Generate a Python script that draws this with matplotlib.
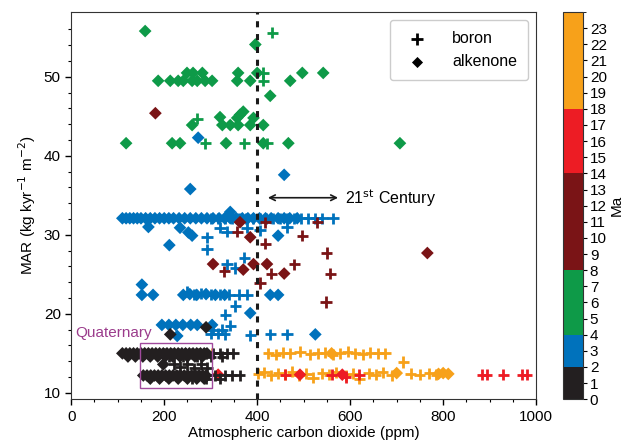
import numpy as np
import matplotlib.pyplot as plt
from matplotlib.colors import ListedColormap, BoundaryNorm
from matplotlib.patches import Rectangle

plt.rcParams['font.family'] = ['Liberation Sans', 'DejaVu Sans']

# age bins (Ma) and colours of the colour bar
bounds = [0, 2, 4, 8, 14, 18, 24]
bin_colors = ['#231f20', '#0072bc', '#0e9a48', '#7a1416', '#ed1c24', '#f7a11a']

# --- black, 0-2 Ma ---
black_alk_x = [110, 118, 126, 134, 142, 150, 158, 166, 174, 182, 190, 198, 206, 214, 222, 230,
               238, 246, 254, 262, 270, 278, 286, 292,
               122, 138, 154, 170, 186, 202, 218, 234, 250, 266, 282,
               155, 163, 171, 179, 187, 195, 203, 211, 219, 227, 235, 243, 251, 259, 267, 275, 283, 290,
               170, 190, 210, 230, 250, 270, 286,
               198, 213, 290]
black_alk_y = [15.0] * 24 + [14.6] * 11 + [12.2] * 18 + [11.8] * 7 + [13.6, 17.4, 18.3]
black_bor_x = [200, 215, 230, 245, 260, 275, 290, 305, 320, 335, 348,
               210, 240, 270, 300, 325,
               230, 250, 270, 290, 310, 330, 345, 362,
               260, 290, 320,
               220, 235, 250, 265, 280, 292]
black_bor_y = [15.0] * 11 + [14.6] * 5 + [12.2] * 8 + [11.8] * 3 + [13.6, 13.3, 13.6, 13.1, 13.6, 13.2]

# --- blue, 2-4 Ma ---
blue_alk_x = [110, 118, 126, 134, 142, 150, 160, 170, 180, 190, 200, 210, 220, 232, 244, 256, 268,
              280, 292, 305, 318, 330, 342, 355, 368, 380, 392, 405, 418, 430, 445, 458, 470, 486,
              342, 256, 458, 166, 234, 252, 260, 211, 445, 273,
              152, 152, 176, 241, 255, 270, 290, 310, 330, 428, 445, 385,
              195, 210, 225, 240, 257, 271, 303, 228, 525]
blue_alk_y = [32.1] * 34 + [32.9, 35.8, 37.6, 31.0, 30.9, 30.3, 29.9, 28.7, 29.9, 42.3,
                            23.7, 22.4, 22.4, 22.4, 22.5, 22.4, 22.5, 22.4, 22.4, 22.4, 22.4, 20.1,
                            18.6, 18.6, 18.6, 18.6, 18.6, 18.6, 18.6, 17.2, 17.4]
blue_bor_x = [300, 315, 330, 345, 360, 375, 390, 405, 420, 435, 450, 465, 480, 495, 510, 525, 540, 563,
              320, 335, 378, 406, 464, 292, 292, 372, 335, 353,
              250, 265, 280, 300, 320, 340, 360, 378,
              353, 331, 342, 305, 325,
              300, 315, 330, 385, 428, 464]
blue_bor_y = [32.1] * 18 + [30.9, 30.4, 30.9, 30.6, 31.0, 29.7, 28.2, 27.1, 26.3, 25.8,
                            22.8, 22.5, 22.6, 22.4, 22.5, 22.4, 22.4, 22.4,
                            21.0, 19.9, 18.5, 18.0, 18.0,
                            17.5, 17.5, 17.4, 17.3, 17.4, 17.4]

# --- green, 4-8 Ma ---
green_alk_x = [159, 396,
               249, 262, 282, 359, 400, 497, 542,
               187, 213, 230, 241, 260, 271, 288, 303, 357, 385, 471,
               428,
               260, 320, 325, 342, 357, 363, 370, 359, 385, 392, 413,
               118, 217, 234, 333, 413, 467, 707]
green_alk_y = [55.8, 54.1] + [50.5] * 7 + [49.5] * 11 + [47.6] + \
              [43.9, 44.9, 43.9, 43.9, 44.8, 45.2, 45.6, 43.9, 43.9, 44.8, 43.9] + [41.6] * 7
green_bor_x = [432, 413, 413, 271, 288, 372, 421]
green_bor_y = [55.6, 50.5, 49.5, 44.7, 41.6, 41.6, 41.6]

# --- dark red, 8-14 Ma ---
dred_alk_x = [181, 363, 385, 766, 305, 370, 392, 421, 458]
dred_alk_y = [45.4, 31.6, 29.7, 27.7, 26.3, 25.6, 26.3, 26.3, 25.1]
dred_bor_x = [417, 529, 357, 497, 417, 550, 329, 430, 480, 557, 406, 548]
dred_bor_y = [31.6, 31.6, 30.4, 29.9, 28.9, 27.7, 25.4, 25.1, 26.3, 25.1, 23.9, 21.5]

# --- orange, 18-24 Ma ---
orng_alk_x = [560, 700, 790, 800, 811]
orng_alk_y = [15.0, 12.5, 12.4, 12.5, 12.4]
orng_bor_x = [303, 424, 440, 455, 471, 492, 514, 530, 546, 562, 578, 595, 611, 627, 643, 660, 675,
              402, 415, 430, 445, 460, 475, 490, 505, 520, 540, 555, 570, 590, 605, 620, 640, 655,
              670, 690, 714, 730, 750, 770, 785]
orng_bor_y = [15.0, 15.0, 14.8, 15.1, 15.0, 15.2, 14.9, 15.0, 15.1, 14.8, 15.0, 15.2, 15.0, 14.9,
              15.1, 15.0, 15.0,
              12.4, 12.6, 12.2, 12.5, 12.3, 12.7, 12.2, 12.4, 11.9, 12.5, 12.3, 12.6, 12.2, 12.4,
              11.8, 12.5, 12.3, 12.6, 12.2, 13.9, 12.4, 12.3, 12.5, 12.3]

# --- red, 14-18 Ma ---
red_alk_x = [316, 492, 583]
red_alk_y = [12.3, 12.3, 12.3]
red_bor_x = [460, 560, 590, 620, 884, 894, 929, 970, 980]
red_bor_y = [12.3, 12.3, 12.0, 12.3, 12.3, 12.3, 12.3, 12.3, 12.3]

groups = [
    (1, black_alk_x, black_alk_y, black_bor_x, black_bor_y),
    (3, blue_alk_x, blue_alk_y, blue_bor_x, blue_bor_y),
    (6, green_alk_x, green_alk_y, green_bor_x, green_bor_y),
    (11, dred_alk_x, dred_alk_y, dred_bor_x, dred_bor_y),
    (20, orng_alk_x, orng_alk_y, orng_bor_x, orng_bor_y),
    (16, red_alk_x, red_alk_y, red_bor_x, red_bor_y),
]

cmap = ListedColormap(bin_colors)
norm = BoundaryNorm(bounds, cmap.N)

fig = plt.figure(figsize=(6.36, 4.48), dpi=100)
ax = fig.add_axes([0.112, 0.109, 0.731, 0.864])
cax = fig.add_axes([0.885, 0.109, 0.0315, 0.864])

sc = None
for age, ax_x, ax_y, bx, by in groups[1:] + groups[:1]:
    sc = ax.scatter(bx, by, c=[age] * len(bx), cmap=cmap, norm=norm, marker='+',
                    s=64, linewidths=2.0)
    ax.scatter(ax_x, ax_y, c=[age] * len(ax_x), cmap=cmap, norm=norm, marker='D',
               s=42, linewidths=0)

ax.axvline(400, color='#1a1a1a', lw=2.2, ls=(0, (2, 2.2)), zorder=3)
ax.annotate('', xy=(417, 34.7), xytext=(580, 34.7),
            arrowprops=dict(arrowstyle='<->', color='#1a1a1a', lw=1.2))
ax.text(588, 34.7, '21$^{\\rm st}$ Century', fontsize=11.5, va='center', ha='left')

ax.add_patch(Rectangle((148, 10.6), 155, 5.7, fill=False, ec='#a04a9c', lw=1.0, zorder=4))
ax.text(8, 17.6, 'Quaternary', color='#9b3c8c', fontsize=11, va='center', ha='left')

ax.set_xlim(0, 1000)
ax.set_ylim(9.2, 58.2)
ax.set_xticks(range(0, 1001, 200))
ax.set_xticks(range(0, 1001, 50), minor=True)
ax.set_yticks(range(10, 51, 10))
ax.set_yticks(range(10, 58, 2), minor=True)
ax.tick_params(labelsize=11, length=4, width=1)
ax.tick_params(which='minor', length=2.5, width=0.8)
ax.set_xlabel('Atmospheric carbon dioxide (ppm)', fontsize=11, labelpad=2)
ax.set_ylabel('MAR (kg kyr$^{-1}$ m$^{-2}$)', fontsize=11)
for sp in ax.spines.values():
    sp.set_color('#333333')

h1 = ax.scatter([], [], color='black', marker='+', s=64, linewidths=2.0)
h2 = ax.scatter([], [], color='black', marker='D', s=32, linewidths=0)
ax.legend([h1, h2], ['boron', 'alkenone'], loc='upper right', fontsize=11.5,
          framealpha=1, edgecolor='#cccccc', borderpad=0.7, handletextpad=1.2)

cb = fig.colorbar(sc, cax=cax, boundaries=bounds, spacing='proportional', ticks=range(24))
cb.ax.tick_params(labelsize=11, length=3, pad=2)
cb.set_label('Ma', fontsize=11, labelpad=2)
cb.outline.set_color('#333333')

fig.savefig('out.png', dpi=100)
